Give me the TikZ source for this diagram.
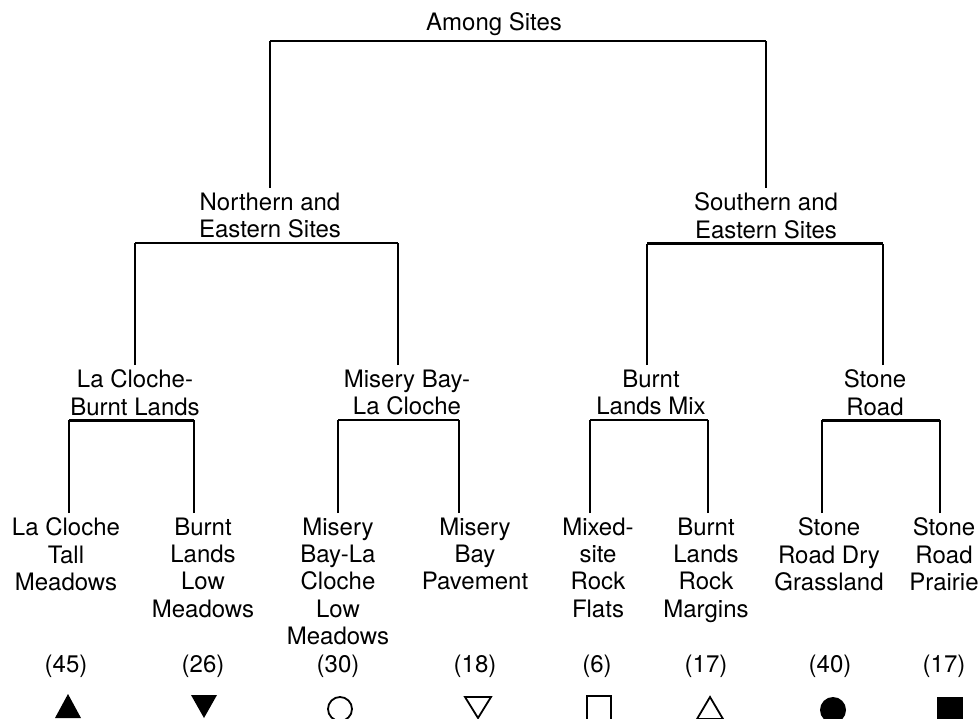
\documentclass[tikz,border=0pt]{standalone}
\usepackage{fontspec}
\setmainfont{TeX Gyre Heros}

\tikzset{
  lbl/.style={align=center, inner sep=0pt, outer sep=5pt, anchor=north, font=\fontsize{24}{27.2}\selectfont},
  cnt/.style={inner sep=0pt, anchor=base, font=\fontsize{24}{27.2}\selectfont},
  link/.style={line width=1.4pt},
  bar/.style={line width=2.6pt},
  mk/.style={line width=1.8pt},
}

\begin{document}
\begin{tikzpicture}[x=1pt,y=-1pt]
        \useasboundingbox (0,0) rectangle (979,719);

        % Top and second level labels
        \node[lbl] (root) at (494,8) {Among Sites};
        \node[lbl] (ne) at (270,188) {Northern and\\Eastern Sites};
        \node[lbl] (se) at (766,188) {Southern and\\Eastern Sites};

        % Third level labels
        \node[lbl] (lb) at (135,365) {La Cloche-\\Burnt Lands};
        \node[lbl] (mb) at (407,365) {Misery Bay-\\La Cloche};
        \node[lbl] (bm) at (651,365) {Burnt\\Lands Mix};
        \node[lbl] (sr) at (875,365) {Stone\\Road};

        % Site labels
        \node[lbl] (l1) at (66,513) {La Cloche\\Tall\\Meadows};
        \node[lbl] (l2) at (203,513) {Burnt\\Lands\\Low\\Meadows};
        \node[lbl] (l3) at (338,513) {Misery\\Bay-La\\Cloche\\Low\\Meadows};
        \node[lbl] (l4) at (475,513) {Misery\\Bay\\Pavement};
        \node[lbl] (l5) at (598,513) {Mixed-\\site\\Rock\\Flats};
        \node[lbl] (l6) at (706,513) {Burnt\\Lands\\Rock\\Margins};
        \node[lbl] (l7) at (829,513) {Stone\\Road Dry\\Grassland};
        \node[lbl] (l8) at (944,513) {Stone\\Road\\Prairie};

        % Sample sizes
        \node[cnt] (c1) at (66,672) {(45)};
        \node[cnt] (c2) at (203,672) {(26)};
        \node[cnt] (c3) at (338,672) {(30)};
        \node[cnt] (c4) at (475,672) {(18)};
        \node[cnt] (c5) at (597,672) {(6)};
        \node[cnt] (c6) at (706,672) {(17)};
        \node[cnt] (c7) at (830,672) {(40)};
        \node[cnt] (c8) at (944,672) {(17)};

        % Drop points (lines are not centred on every label)
        \coordinate (dmb) at ([xshift=-9pt]mb.north);
        \coordinate (dbm) at ([xshift=-4pt]bm.north);
        \coordinate (dsr) at ([xshift=8pt]sr.north);
        \coordinate (d1) at ([xshift=3pt]l1.north);
        \coordinate (d2) at ([xshift=-9pt]l2.north);
        \coordinate (d3) at (l3.north);
        \coordinate (d4) at ([xshift=-16pt]l4.north);
        \coordinate (d5) at ([xshift=-8pt]l5.north);
        \coordinate (d6) at ([xshift=2pt]l6.north);
        \coordinate (d7) at ([xshift=-7pt]l7.north);
        \coordinate (d8) at ([xshift=-4pt]l8.north);

        % Among Sites split
        \draw[link] (ne.north) -- (ne.north |- root.south);
        \draw[link] (se.north) -- (se.north |- root.south);
        \draw[bar] (ne.north |- root.south) -- (se.north |- root.south);

        % Northern and Eastern split
        \draw[link] (lb.north) -- (lb.north |- ne.south);
        \draw[link] (dmb) -- (dmb |- ne.south);
        \draw[bar] (lb.north |- ne.south) -- (dmb |- ne.south);

        % Southern and Eastern split
        \draw[link] (dbm) -- (dbm |- se.south);
        \draw[link] (dsr) -- (dsr |- se.south);
        \draw[bar] (dbm |- se.south) -- (dsr |- se.south);

        % La Cloche-Burnt Lands
        \draw[link] (d1) -- (d1 |- lb.south);
        \draw[link] (d2) -- (d2 |- lb.south);
        \draw[bar] (d1 |- lb.south) -- (d2 |- lb.south);

        % Misery Bay-La Cloche
        \draw[link] (d3) -- (d3 |- mb.south);
        \draw[link] (d4) -- (d4 |- mb.south);
        \draw[bar] (d3 |- mb.south) -- (d4 |- mb.south);

        % Burnt Lands Mix
        \draw[link] (d5) -- (d5 |- bm.south);
        \draw[link] (d6) -- (d6 |- bm.south);
        \draw[bar] (d5 |- bm.south) -- (d6 |- bm.south);

        % Stone Road
        \draw[link] (d7) -- (d7 |- sr.south);
        \draw[link] (d8) -- (d8 |- sr.south);
        \draw[bar] (d7 |- sr.south) -- (d8 |- sr.south);

        % Symbols
        \fill (55,718) -- (81,718) -- (68,694) -- cycle;
        \fill (191,695) -- (217,695) -- (204,718) -- cycle;
        \draw[mk] (340,709) circle (12pt);
        \draw[mk] (465,697) -- (491,697) -- (478,718) -- cycle;
        \draw[mk] (587,696) rectangle (611,720);
        \draw[mk] (697,719) -- (723,719) -- (710,697) -- cycle;
        \fill (833,710) circle (13pt);
        \fill (937,697) rectangle (963,722);

    \end{tikzpicture}
\end{document}
